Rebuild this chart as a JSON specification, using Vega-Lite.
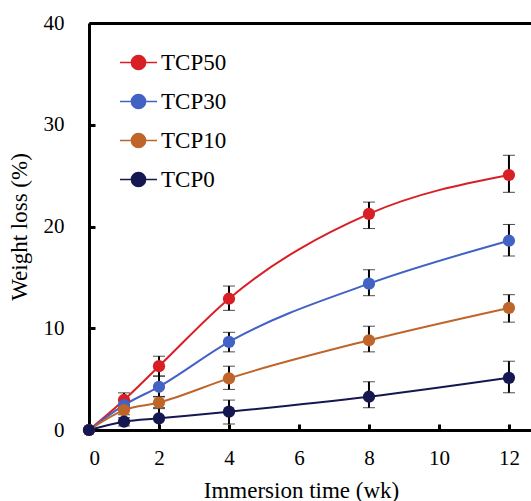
{
  "$schema": "https://vega.github.io/schema/vega-lite/v6.json",
  "autosize": "none",
  "width": 442,
  "height": 407,
  "padding": {"left": 89, "top": 23, "right": 0, "bottom": 71},
  "background": "white",
  "config": {
    "view": {"stroke": null},
    "font": "Liberation Serif",
    "axis": {
      "labelFont": "Liberation Serif", "titleFont": "Liberation Serif", "labelFontSize": 21, "titleFontSize": 23,
      "labelColor": "black", "titleColor": "black", "titleFontWeight": "normal", "grid": false,
      "domainColor": "black", "domainWidth": 3, "tickColor": "black", "tickWidth": 3, "tickSize": -6
    },
    "legend": {"labelFont": "Liberation Serif"}
  },
  "data": {
    "values": [
      {"series": "TCP50", "week": 0, "loss": 0, "lo": null, "hi": null},
      {"series": "TCP50", "week": 1, "loss": 2.95, "lo": 2.25, "hi": 3.65},
      {"series": "TCP50", "week": 2, "loss": 6.27, "lo": 5.3, "hi": 7.25},
      {"series": "TCP50", "week": 4, "loss": 12.9, "lo": 11.76, "hi": 14.15},
      {"series": "TCP50", "week": 8, "loss": 21.24, "lo": 19.8, "hi": 22.4},
      {"series": "TCP50", "week": 12, "loss": 25.06, "lo": 23.36, "hi": 27.0},
      {"series": "TCP30", "week": 0, "loss": 0, "lo": null, "hi": null},
      {"series": "TCP30", "week": 1, "loss": 2.45, "lo": 2.0, "hi": 2.9},
      {"series": "TCP30", "week": 2, "loss": 4.25, "lo": 3.25, "hi": 5.3},
      {"series": "TCP30", "week": 4, "loss": 8.66, "lo": 7.68, "hi": 9.6},
      {"series": "TCP30", "week": 8, "loss": 14.38, "lo": 13.2, "hi": 15.75},
      {"series": "TCP30", "week": 12, "loss": 18.6, "lo": 17.1, "hi": 20.2},
      {"series": "TCP10", "week": 0, "loss": 0, "lo": null, "hi": null},
      {"series": "TCP10", "week": 1, "loss": 1.96, "lo": 1.5, "hi": 2.4},
      {"series": "TCP10", "week": 2, "loss": 2.7, "lo": 2.1, "hi": 3.3},
      {"series": "TCP10", "week": 4, "loss": 5.07, "lo": 3.99, "hi": 6.27},
      {"series": "TCP10", "week": 8, "loss": 8.82, "lo": 7.68, "hi": 10.2},
      {"series": "TCP10", "week": 12, "loss": 12.0, "lo": 10.6, "hi": 13.3},
      {"series": "TCP0", "week": 0, "loss": 0, "lo": null, "hi": null},
      {"series": "TCP0", "week": 1, "loss": 0.82, "lo": 0.4, "hi": 1.2},
      {"series": "TCP0", "week": 2, "loss": 1.15, "lo": 0.05, "hi": 2.2},
      {"series": "TCP0", "week": 4, "loss": 1.8, "lo": 0.59, "hi": 2.94},
      {"series": "TCP0", "week": 8, "loss": 3.27, "lo": 2.19, "hi": 4.74},
      {"series": "TCP0", "week": 12, "loss": 5.13, "lo": 3.66, "hi": 6.76}
    ]
  },
  "encoding": {
    "x": {"field": "week", "type": "quantitative", "scale": {"domain": [0, 12.63], "nice": false, "zero": false},
      "axis": {"orient": "bottom", "title": "Immersion time (wk)", "values": [0, 2, 4, 6, 8, 10, 12],
        "labelPadding": 23, "titlePadding": 11, "titleX": 212}},
    "y": {"field": "loss", "type": "quantitative", "scale": {"domain": [0, 40], "nice": false},
      "axis": {"title": "Weight loss (%)", "values": [0, 10, 20, 30, 40], "labelPadding": 31, "titlePadding": 12}}
  },
  "layer": [
    {
      "mark": {"type": "line", "interpolate": "monotone", "strokeWidth": 2},
      "encoding": {
        "x": {"field": "week", "type": "quantitative",
          "axis": {"orient": "top", "title": null, "labels": false, "ticks": false, "values": []}},
        "color": {
          "field": "series", "type": "nominal",
          "scale": {"domain": ["TCP50", "TCP30", "TCP10", "TCP0"], "range": ["#d91f26", "#4262c4", "#c0652a", "#151850"]},
          "legend": {
            "orient": "none", "legendX": 30, "legendY": 20, "title": null,
            "symbolType": "M-1,0H1M0.38,0A0.38,0.38,0,1,1,-0.38,0A0.38,0.38,0,1,1,0.38,0Z",
            "symbolSize": 1369, "symbolStrokeWidth": 1.6,
            "labelFont": "Liberation Serif", "labelFontSize": 23, "labelColor": "black",
            "labelOffset": 3, "rowPadding": 7, "padding": 0
          }
        },
        "order": {"field": "week", "type": "quantitative"}
      }
    },
    {
      "transform": [{"filter": "datum.lo != null"}],
      "mark": {"type": "errorbar", "ticks": {"size": 12, "color": "black", "strokeWidth": 2}, "rule": {"color": "black", "strokeWidth": 2}},
      "encoding": {
        "x": {"field": "week", "type": "quantitative", "axis": null},
        "y": {"field": "lo", "type": "quantitative", "title": "Weight loss (%)"},
        "y2": {"field": "hi"}
      }
    },
    {
      "mark": {"type": "point", "filled": true, "shape": "circle", "size": 150, "opacity": 1},
      "encoding": {
        "color": {"field": "series", "type": "nominal", "legend": null}
      }
    }
  ],
  "resolve": {"axis": {"x": "independent"}}
}
